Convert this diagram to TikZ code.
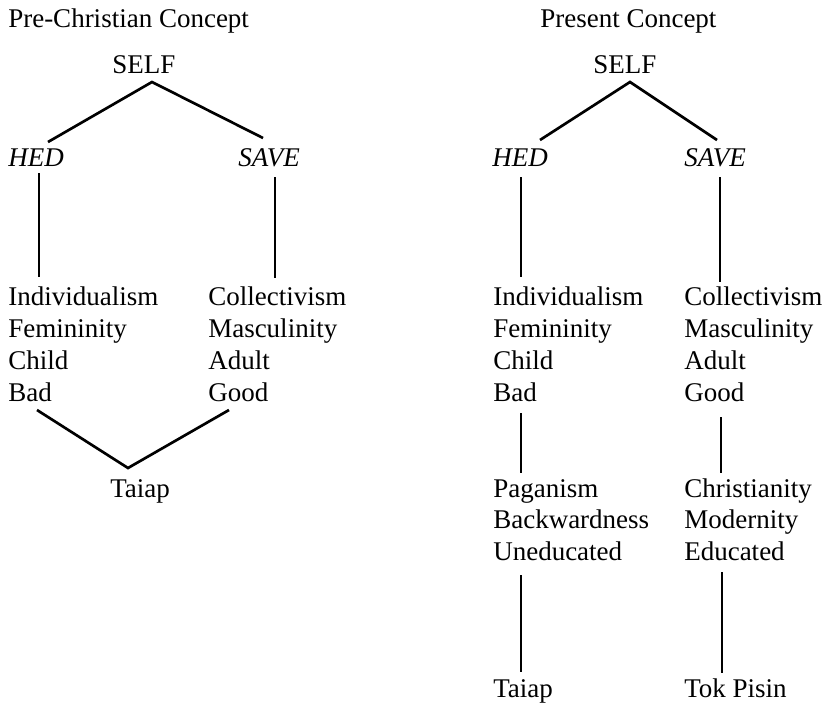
\documentclass[tikz,border=0pt]{standalone}
\usepackage{fontspec}
\setmainfont{Liberation Serif}
\usetikzlibrary{calc}
\tikzset{
	lbl/.style={anchor=base west, inner sep=0pt, font=\fontsize{20.25}{24}\selectfont},
	link/.style={line width=2pt, line cap=butt},
}

\begin{document}
\begin{tikzpicture}[x=0.75pt, y=-0.75pt]
	\useasboundingbox (0,0) rectangle (825,704);
	% pre-christian
	\node[lbl] (titleA) at (8,27) {Pre-Christian Concept};
	\node[lbl] (selfA) at (112,73) {SELF};
	\node[lbl] (hedA) at (8,166) {\textit{HED}};
	\node[lbl] (saveA) at (238,166) {\textit{SAVE}};
	\foreach \w [count=\i] in {Individualism,Femininity,Child,Bad}
		\node[lbl] (hlA\i) at (8,{305+32*(\i-1)}) {\w};
	\foreach \w [count=\i] in {Collectivism,Masculinity,Adult,Good}
		\node[lbl] (clA\i) at (208,{305+32*(\i-1)}) {\w};
	\node[lbl] (taiapA) at (110,497) {Taiap};
	\coordinate (topA) at ($(selfA.base west)+(40,9)$);
	\draw[link] ($(hedA.base west)+(40,-24)$) -- (topA) -- ($(saveA.base west)+(25,-28)$);
	\draw[link] ($(hedA.base west)+(31,7)$) -- ($(hlA1.base west)+(31,-28)$);
	\draw[link] ($(saveA.base west)+(37,11)$) -- ($(clA1.base west)+(67,-27)$);
	\draw[link] ($(hlA4.base west)+(29,9)$) -- ($(taiapA.base west)+(18,-29)$)
		-- ($(clA4.base west)+(21,9)$);

	% present
	\node[lbl] (titleB) at (540,27) {Present Concept};
	\node[lbl] (selfB) at (593,73) {SELF};
	\node[lbl] (hedB) at (492,166) {\textit{HED}};
	\node[lbl] (saveB) at (684,166) {\textit{SAVE}};
	\foreach \w [count=\i] in {Individualism,Femininity,Child,Bad}
		\node[lbl] (hlB\i) at (493,{305+32*(\i-1)}) {\w};
	\foreach \w [count=\i] in {Collectivism,Masculinity,Adult,Good}
		\node[lbl] (clB\i) at (684,{305+32*(\i-1)}) {\w};
	\foreach \w [count=\i] in {Paganism,Backwardness,Uneducated}
		\node[lbl] (pgB\i) at (493,{497+31.5*(\i-1)}) {\w};
	\foreach \w [count=\i] in {Christianity,Modernity,Educated}
		\node[lbl] (chB\i) at (684,{497+31.5*(\i-1)}) {\w};
	\node[lbl] (taiapB) at (493,697) {Taiap};
	\node[lbl] (tokB) at (684,697) {Tok Pisin};
	\coordinate (topB) at ($(selfB.base west)+(37,9)$);
	\draw[link] ($(hedB.base west)+(48,-26)$) -- (topB) -- ($(saveB.base west)+(33,-26)$);
	\draw[link] ($(hedB.base west)+(29,11)$) -- ($(hlB1.base west)+(28,-28)$);
	\draw[link] ($(saveB.base west)+(36,11)$) -- ($(clB1.base west)+(36,-23)$);
	\draw[link] ($(hlB4.base west)+(28,12)$) -- ($(pgB1.base west)+(28,-24)$);
	\draw[link] ($(clB4.base west)+(37,16)$) -- ($(chB1.base west)+(37,-24)$);
	\draw[link] ($(pgB3.base west)+(28,15)$) -- ($(taiapB.base west)+(28,-25)$);
	\draw[link] ($(chB3.base west)+(38,12)$) -- ($(tokB.base west)+(38,-24)$);
\end{tikzpicture}
\end{document}
